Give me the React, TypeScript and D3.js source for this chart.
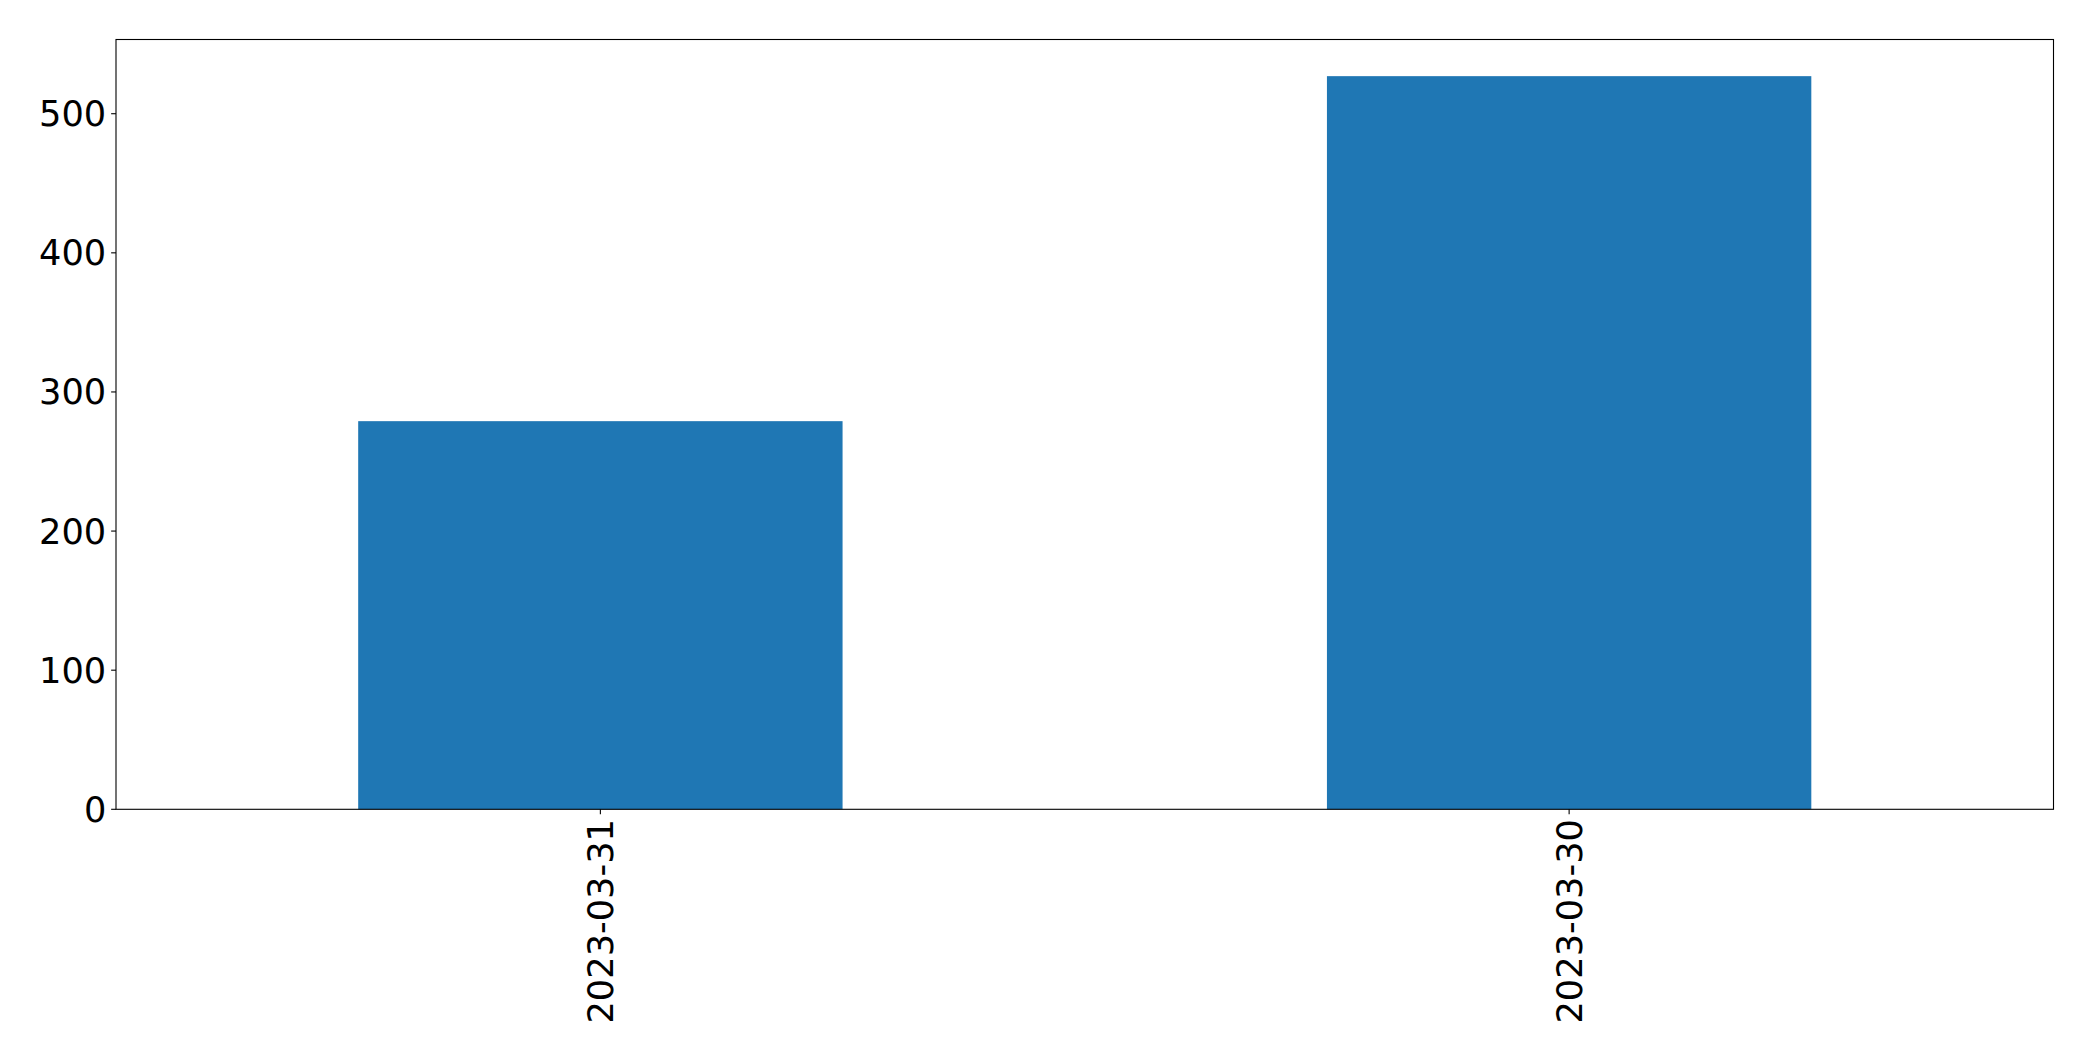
import React from "react";
import * as d3 from "d3";

const categories: string[] = ["2023-03-31", "2023-03-30"];
const values: number[] = [279, 527];
const yTicks: number[] = [0, 100, 200, 300, 400, 500];

const W = 2093;
const H = 1061;
const margin = { left: 116, right: 2093 - 2053.5, top: 39.5, bottom: 1061 - 809.3 };
const FONT = "DejaVu Sans, sans-serif";
const FS = 35.2;
const TICK = 4.86;

export default function App() {
  const x = d3
    .scaleLinear()
    .domain([-0.5, categories.length - 0.5])
    .range([margin.left, W - margin.right]);
  const yMax = d3.max(values)! * 1.05;
  const y = d3.scaleLinear().domain([0, yMax]).range([H - margin.bottom, margin.top]);
  const barW = 0.5;
  const x0 = x(-0.5), x1 = x(categories.length - 0.5);
  const y0 = y(0), y1 = y(yMax);

  return (
    <div style={{ position: "absolute", left: 0, top: 0 }}>
      <svg width={W} height={H} style={{ display: "block", background: "#fff" }}>
        <rect x={0} y={0} width={W} height={H} fill="#fff" />
        {values.map((v, i) => (
          <rect
            key={i}
            x={x(i - barW / 2)}
            width={x(i + barW / 2) - x(i - barW / 2)}
            y={y(v)}
            height={y(0) - y(v)}
            fill="#1f77b4"
          />
        ))}
        <rect x={x0} y={y1} width={x1 - x0} height={y0 - y1} fill="none" stroke="#000" strokeWidth={1.1} />
        {yTicks.map((t) => (
          <g key={t}>
            <line x1={x0} x2={x0 - TICK} y1={y(t)} y2={y(t)} stroke="#000" strokeWidth={1.1} />
            <text
              x={x0 - TICK - 4.86}
              y={y(t)}
              textAnchor="end"
              dominantBaseline="central"
              fontFamily={FONT}
              fontSize={FS}
              fill="#000"
            >
              {t}
            </text>
          </g>
        ))}
        {categories.map((c, i) => (
          <g key={c}>
            <line x1={x(i)} x2={x(i)} y1={y0} y2={y0 + TICK} stroke="#000" strokeWidth={1.1} />
            <text
              transform={`translate(${x(i)},${y0 + TICK + 4.86}) rotate(-90)`}
              textAnchor="end"
              dominantBaseline="central"
              fontFamily={FONT}
              fontSize={FS}
              fill="#000"
            >
              {c}
            </text>
          </g>
        ))}
      </svg>
    </div>
  );
}
